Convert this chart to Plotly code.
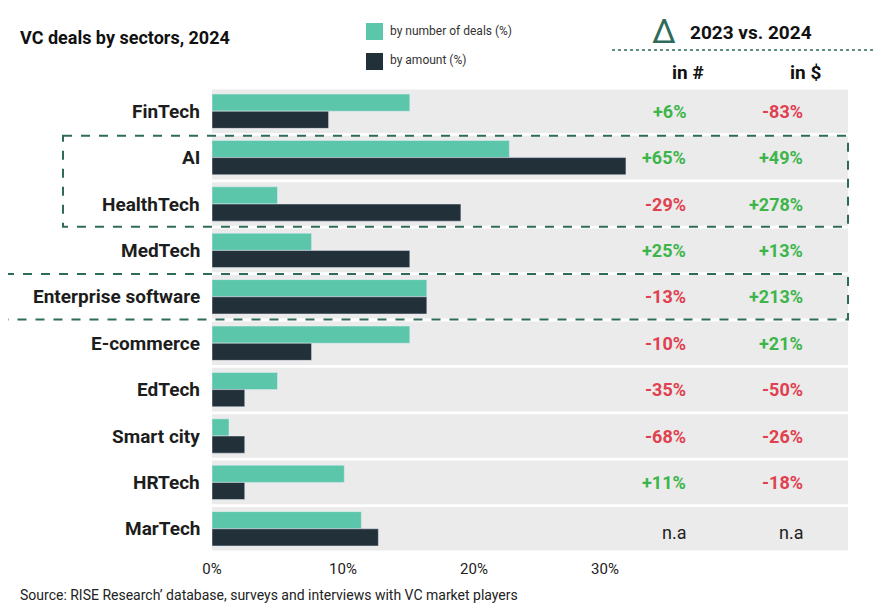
import plotly.graph_objects as go

sectors = ["FinTech", "AI", "HealthTech", "MedTech", "Enterprise software",
           "E-commerce", "EdTech", "Smart city", "HRTech", "MarTech"]
by_deals = [15.1, 22.7, 5.0, 7.6, 16.4, 15.1, 5.0, 1.3, 10.1, 11.4]
by_amount = [8.9, 31.6, 19.0, 15.1, 16.4, 7.6, 2.5, 2.5, 2.5, 12.7]
delta_num = ["+6%", "+65%", "-29%", "+25%", "-13%", "-10%", "-35%", "-68%", "+11%", "n.a"]
delta_amt = ["-83%", "+49%", "+278%", "+13%", "+213%", "+21%", "-50%", "-26%", "-18%", "n.a"]

W, H = 886, 610
OFF = 8  # page body margin in the browser shot
L, R, T, B = 212 - OFF, 848 - OFF, 88 - OFF, 552 - OFF
XMAX = (R - L) / 13.1
FONT = "Roboto"
TEAL, DARK = "#5cc6aa", "#22303a"
GREEN, RED = "#3db54a", "#e0404f"


def px(x):
    return (x - OFF - L) / (R - L)


def py(y):
    return (B - (y - OFF)) / (B - T)


def delta_color(s):
    if s.startswith("+"):
        return GREEN
    if s.startswith("-"):
        return RED
    return "#222222"


ypos = list(range(len(sectors)))
fig = go.Figure()
fig.add_trace(go.Bar(y=ypos, x=by_deals, orientation="h", marker_color=TEAL, name="by number of deals (%)"))
fig.add_trace(go.Bar(y=ypos, x=by_amount, orientation="h", marker_color=DARK, name="by amount (%)"))

shapes = []
ann = []
for i, s in enumerate(sectors):
    shapes.append(dict(type="rect", xref="x", yref="y", x0=0, x1=XMAX, y0=i - 0.47, y1=i + 0.47,
                       fillcolor="#ebebeb", line_width=0, layer="below"))
    ann.append(dict(x=0, y=i, xref="paper", yref="y", text=s, showarrow=False, xanchor="right",
                    xshift=-10, font=dict(family=FONT, size=19, color="#1d1d1d", weight="bold")))
    for col, txt in ((688, delta_num[i]), (805, delta_amt[i])):
        bold = txt != "n.a"
        ann.append(dict(x=px(col), y=i, xref="paper", yref="y", text=txt, showarrow=False,
                        yshift=0 if bold else -4,
                        font=dict(family=FONT, size=18, color=delta_color(txt),
                                  weight="bold" if bold else "normal")))

box = dict(type="rect", xref="paper", yref="y", line=dict(color="#2e6b5a", width=2, dash="dash"))
shapes.append(dict(box, x0=px(63), x1=1, y0=0.53, y1=2.49))
shapes.append(dict(box, x0=px(5), x1=1, y0=3.51, y1=4.49))

# legend + header
shapes.append(dict(type="rect", xref="paper", yref="paper", x0=px(366), x1=px(383), y0=py(40), y1=py(23),
                   fillcolor=TEAL, line_width=0))
shapes.append(dict(type="rect", xref="paper", yref="paper", x0=px(366), x1=px(383), y0=py(70), y1=py(53),
                   fillcolor=DARK, line_width=0))
shapes.append(dict(type="line", xref="paper", yref="paper", x0=px(612), x1=px(876), y0=py(50), y1=py(50),
                   line=dict(color="#2e6b5a", width=1.5, dash="dot")))
top = [
    (18, 38, "VC deals by sectors, 2024", 18, "bold", "left", "#111111"),
    (388, 31, "by number of deals (%)", 12, "normal", "left", "#333333"),
    (388, 60, "by amount (%)", 12, "normal", "left", "#333333"),
    (664, 31, "∆", 34, "normal", "center", "#2e6b5a"),
    (688, 32, "2023 vs. 2024", 19, "bold", "left", "#111111"),
    (688, 73, "in #", 19, "bold", "center", "#111111"),
    (805, 73, "in $", 19, "bold", "center", "#111111"),
    (18, 595, "Source: RISE Research\u2019 database, surveys and interviews with VC market players", 14,
     "normal", "left", "#222222"),
]
for x, y, t, size, w, anchor, color in top:
    ann.append(dict(x=px(x), y=py(y), xref="paper", yref="paper", text=t, showarrow=False,
                    xanchor=anchor, yanchor="middle",
                    font=dict(family=FONT, size=size, color=color, weight=w)))

fig.update_layout(
    width=W, height=H, margin=dict(l=L, r=W - R, t=T, b=H - B),
    plot_bgcolor="white", paper_bgcolor="white", showlegend=False,
    barmode="group", bargap=0.26, bargroupgap=0.0,
    shapes=shapes, annotations=ann,
    font=dict(family=FONT),
)
fig.update_xaxes(range=[0, XMAX], tickvals=[0, 10, 20, 30], ticktext=["0%", "10%", "20%", "30%"],
                 showgrid=False, zeroline=False, tickfont=dict(size=15, color="#222222"), ticklen=0,
                 ticklabelstandoff=6)
fig.update_yaxes(range=[9.5, -0.5], showticklabels=False, showgrid=False, zeroline=False)

fig.write_html("out.html")
